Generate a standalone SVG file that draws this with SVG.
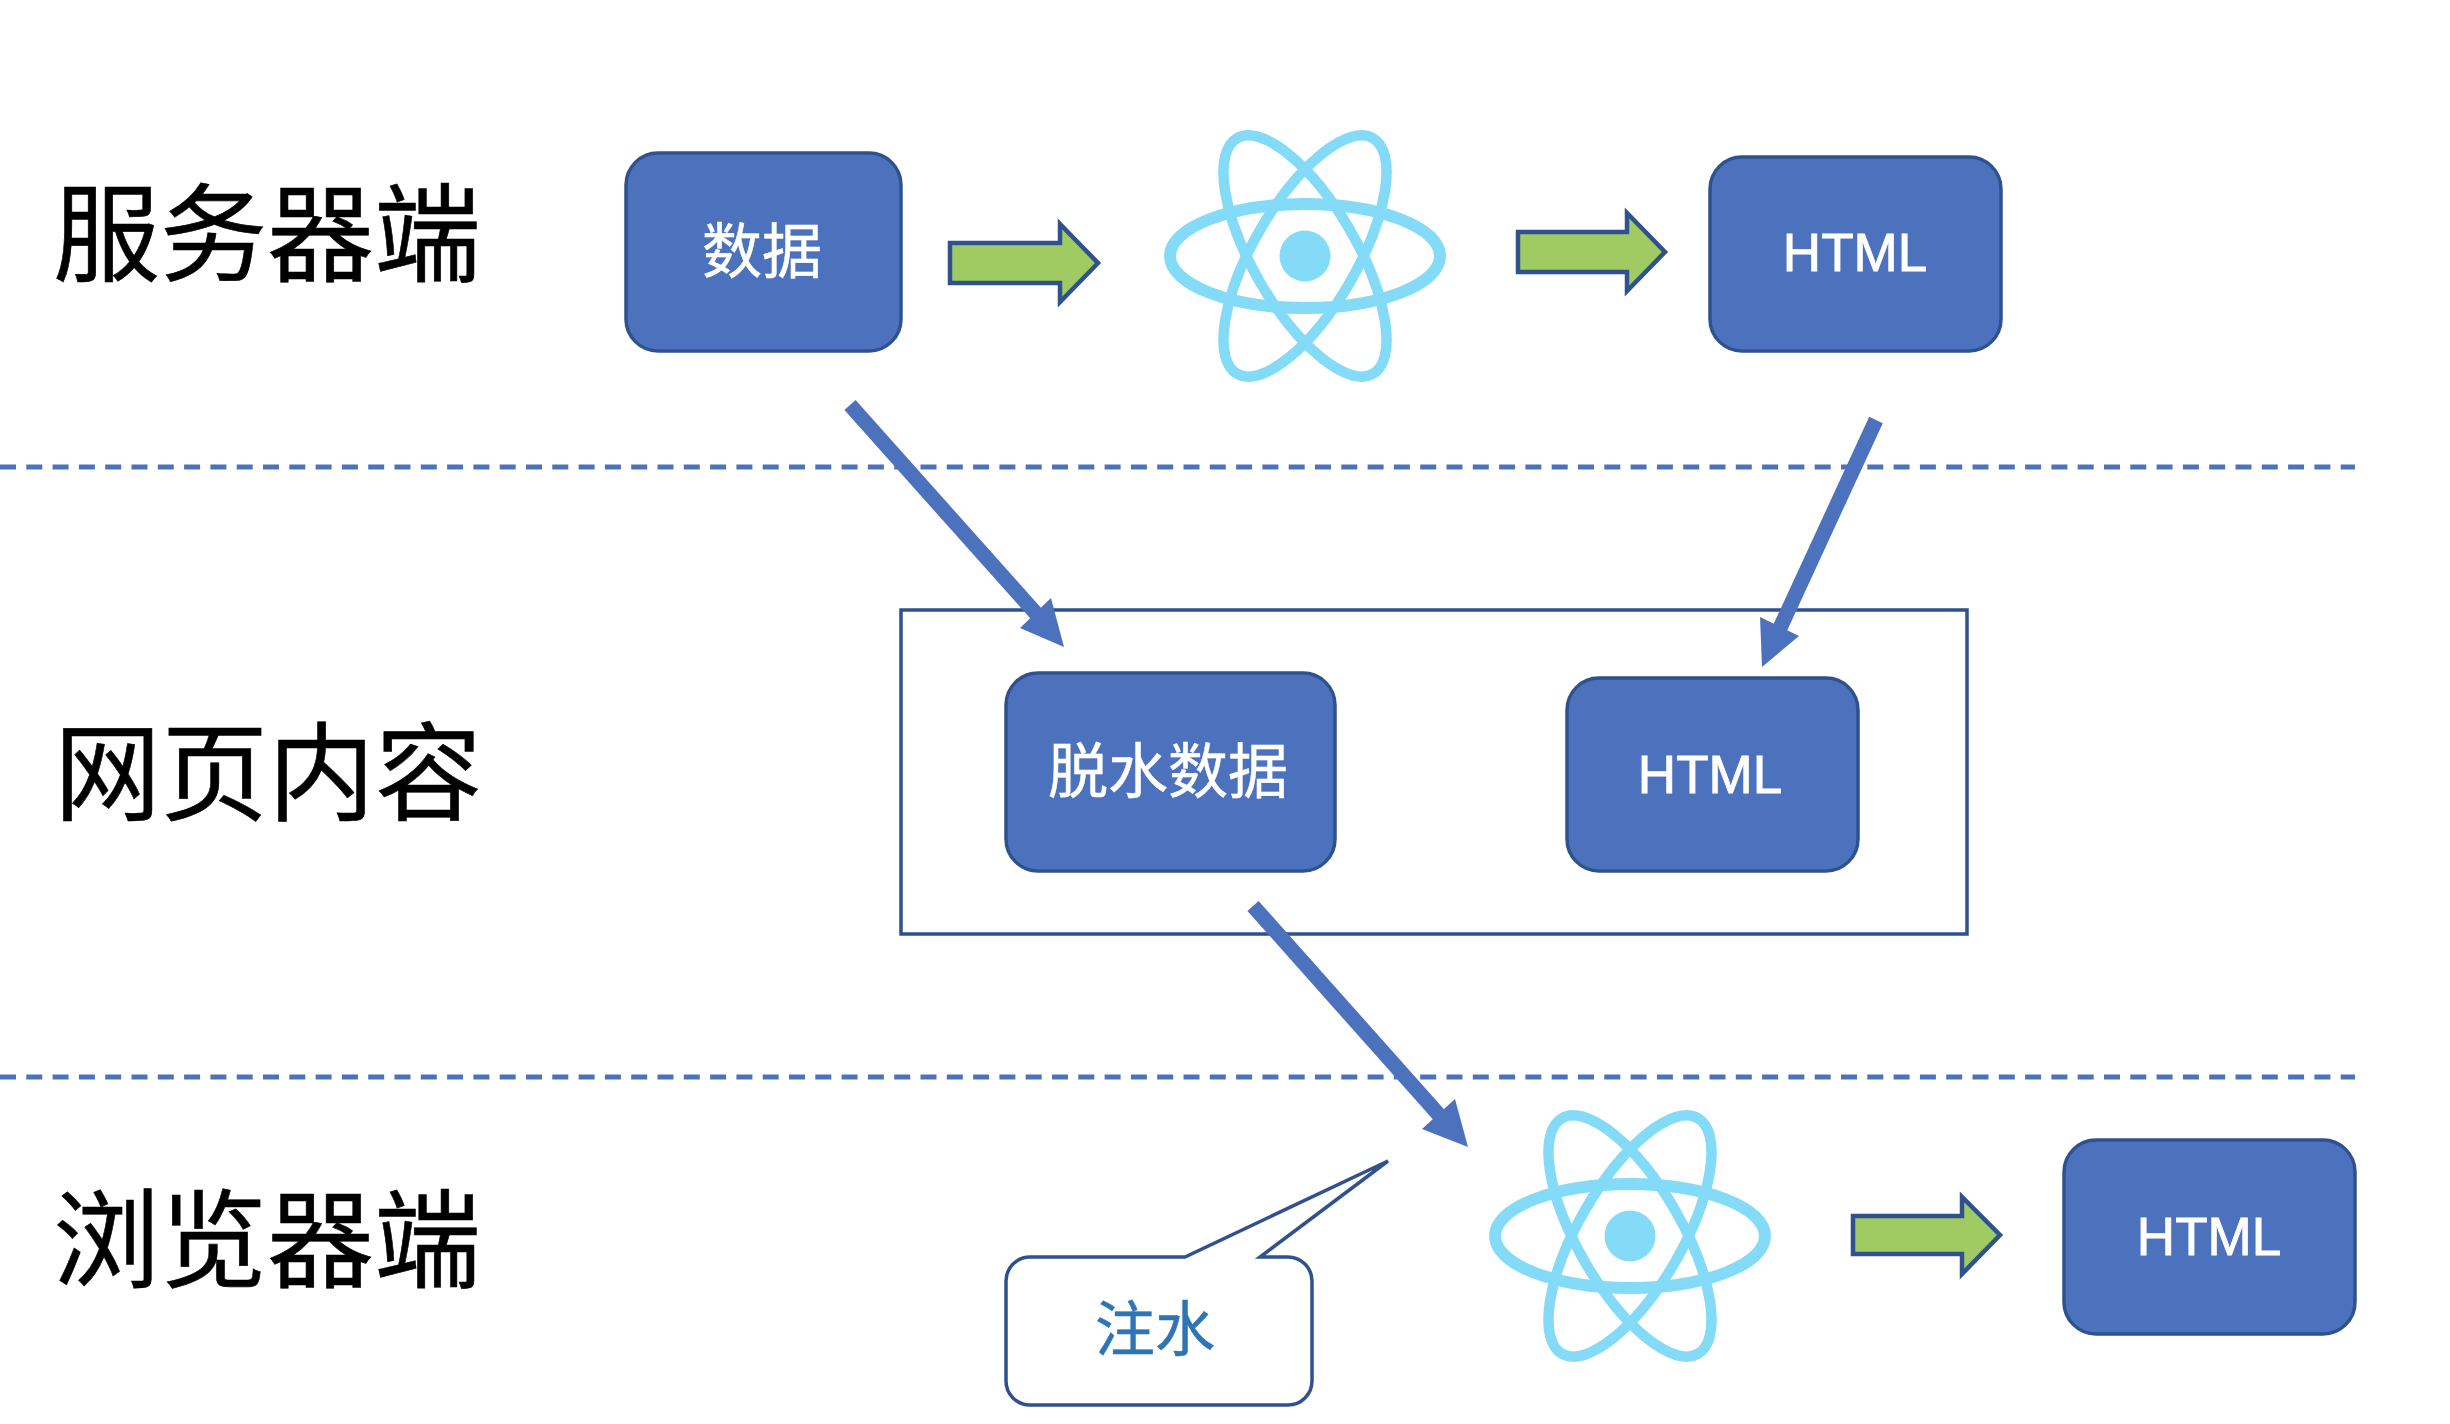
<svg xmlns="http://www.w3.org/2000/svg" width="2450" height="1424" viewBox="0 0 2450 1424">
<style>
.box{fill:#4d72bd;stroke:#2f528f;stroke-width:3.5}
.lbl{fill:#fff;stroke:#fff;stroke-width:.9;font-family:"Liberation Sans","Noto Sans CJK SC",sans-serif;font-size:53px;text-anchor:middle}
.cjk{fill:#fff;stroke:#fff;stroke-width:.5;font-family:"Noto Sans CJK SC",sans-serif;font-size:60px;text-anchor:middle}
.head{fill:#000;stroke:#000;stroke-width:.6;font-family:"Noto Sans CJK SC",sans-serif;font-size:107px;text-anchor:middle}
.dash{stroke:#4d72bd;stroke-width:5;stroke-dasharray:16 10.3;fill:none}
.shaft{stroke:#4d72bd;stroke-width:15;fill:none}
.tip{fill:#4d72bd}
.green{fill:#a0cb62;stroke:#2f528f;stroke-width:4.5;stroke-miterlimit:3}
.orbit{fill:none;stroke:#84dbf8;stroke-width:10.5}
</style>
<defs>
<g id="react">
<circle r="25.5" fill="#84dbf8"/>
<ellipse class="orbit" rx="135" ry="52" style="stroke-width:12"/>
<ellipse class="orbit" rx="136" ry="52" transform="rotate(60)"/>
<ellipse class="orbit" rx="136" ry="52" transform="rotate(120)"/>
</g>
</defs>
<rect width="2450" height="1424" fill="#fff"/>
<g id="separators">
<line class="dash" x1="0" y1="467" x2="2355" y2="467"/>
<line class="dash" x1="0" y1="1077" x2="2355" y2="1077"/>
</g>
<g id="label-server"><text class="head" x="267" y="273">服务器端</text></g>
<g id="label-page"><text class="head" x="268" y="812">网页内容</text></g>
<g id="label-browser"><text class="head" x="267" y="1279">浏览器端</text></g>
<g id="page-container"><rect x="901" y="610" width="1066" height="324" fill="#fff" stroke="#2f528f" stroke-width="3.5"/></g>
<g id="node-data"><rect class="box" x="626" y="153" width="275" height="198" rx="32"/><text class="cjk" x="762" y="273">数据</text></g>
<g id="react-server"><use href="#react" x="1305" y="256"/></g>
<g id="node-html-server"><rect class="box" x="1710" y="157" width="291" height="194" rx="32"/><text class="lbl" x="1855" y="271">HTML</text></g>
<g id="node-dehydrated"><rect class="box" x="1006" y="673" width="329" height="198" rx="32"/><text class="cjk" x="1168" y="793">脱水数据</text></g>
<g id="node-html-page"><rect class="box" x="1567" y="678" width="291" height="193" rx="32"/><text class="lbl" x="1710" y="793">HTML</text></g>
<g id="react-browser"><use href="#react" x="1630" y="1236"/></g>
<g id="node-html-browser"><rect class="box" x="2064" y="1140" width="291" height="194" rx="32"/><text class="lbl" x="2209" y="1255">HTML</text></g>
<g id="callout-hydrate">
<path d="M1030 1257H1185L1388 1161L1260 1257H1288A24 24 0 0 1 1312 1281V1381A24 24 0 0 1 1288 1405H1030A24 24 0 0 1 1006 1381V1281A24 24 0 0 1 1030 1257Z" fill="#fff" stroke="#2f528f" stroke-width="3.5"/>
<text x="1155" y="1351" fill="#2e75b6" stroke="#2e75b6" stroke-width=".5" font-family="'Noto Sans CJK SC',sans-serif" font-size="60" text-anchor="middle">注水</text>
</g>
<g id="connectors">
<path class="green" d="M950 243H1060V224L1098 263L1060 302V283H950Z"/>
<path class="green" d="M1518 232H1627V213L1665 252L1627 291V272H1518Z"/>
<path class="green" d="M1853 1216H1962V1197L2000 1235L1962 1274V1254H1853Z"/>
<line class="shaft" x1="850" y1="405" x2="1040" y2="618"/>
<path class="tip" d="M1064 647L1051 598L1020 628Z"/>
<line class="shaft" x1="1876" y1="420" x2="1780" y2="628"/>
<path class="tip" d="M1762 667L1760 617L1799 636Z"/>
<line class="shaft" x1="1253" y1="906" x2="1440" y2="1116"/>
<path class="tip" d="M1468 1147L1455 1099L1422 1129Z"/>
</g>
</svg>
